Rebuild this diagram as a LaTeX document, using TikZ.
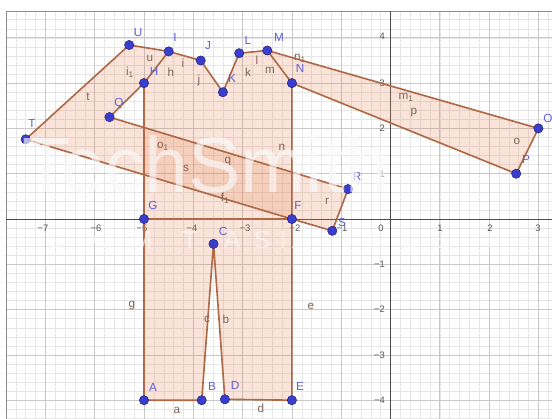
\documentclass[tikz,border=0pt]{standalone}
\usepackage{fontspec}
\setmainfont{Liberation Sans}
\definecolor{segc}{RGB}{175,105,70}
\definecolor{fillc}{RGB}{232,120,70}
\definecolor{ptc}{RGB}{58,62,205}
\definecolor{ptd}{RGB}{30,30,120}
\definecolor{labc}{RGB}{95,95,220}
\definecolor{slabc}{RGB}{130,100,85}
\definecolor{axc}{RGB}{85,85,85}
\definecolor{minorc}{RGB}{230,230,230}
\definecolor{majorc}{RGB}{200,200,200}
\definecolor{wmc}{RGB}{250,250,250}
\begin{document}
\begin{tikzpicture}[x=0.03cm,y=-0.03cm,
  seg/.style={draw=segc,line width=1.4pt,line cap=round,line join=round},
  area/.style={fill=fillc,fill opacity=0.2},
  pt/.style={circle,fill=ptc,draw=ptd,line width=0.4pt,inner sep=0pt,minimum size=0.28cm},
  plab/.style={text=labc,font=\fontsize{10}{12}\selectfont,inner sep=0pt},
  slab/.style={text=slabc,font=\fontsize{10}{12}\selectfont,inner sep=0pt},
  axlab/.style={text=axc,font=\fontsize{8}{10}\selectfont,inner sep=0pt},
  minorg/.style={draw=minorc,line width=0.35pt},
  majorg/.style={draw=majorc,line width=0.6pt},
  axisline/.style={draw=black!70,line width=0.8pt},
  wm/.style={text=wmc,text opacity=0.65,inner sep=0pt}
]
\useasboundingbox (0,0) rectangle (552,419);
\fill[white] (0,0) rectangle (552,419);
% grid
\begin{scope}
\clip (6,11) rectangle (552,419);
\foreach \i in {-39,...,16} \draw[minorg] ({390.5+9.86*\i},11) -- ({390.5+9.86*\i},419);
\foreach \j in {-23,...,23} \draw[minorg] (6,{219+9.06*\j}) -- (552,{219+9.06*\j});
\foreach \i in {-7,...,3} \draw[majorg] ({390.5+49.3*\i},11) -- ({390.5+49.3*\i},419);
\foreach \j in {-4,...,4} \draw[majorg] (6,{219-45.3*\j}) -- (552,{219-45.3*\j});
\end{scope}
\draw[black!45,line width=0.8pt] (6,419) -- (6,11) -- (552,11);
\draw[axisline] (6,219) -- (552,219);
\draw[axisline] (390.5,11) -- (390.5,419);
% axis numbers
\foreach \v/\px in {-7/43,-6/96,-5/142,-4/192,-3/245,-2/295,-1/342,1/440,2/490,3/538}
  \node[axlab] at (\px,228) {\ifnum\v<0 −\number-\v\else\v\fi};
\node[axlab] at (381,228) {0};
\foreach \v/\py in {4/36,3/83,2/128,1/174}
  \node[axlab,anchor=east] at (385,\py) {\v};
\foreach \v/\py in {1/264,2/309,3/355,4/400}
  \node[axlab,anchor=east] at (385,\py) {−\v};
% points
\coordinate (pA) at (144,400.2);
\coordinate (pB) at (201.7,400.2);
\coordinate (pC) at (213.5,243.9);
\coordinate (pD) at (224.9,399.3);
\coordinate (pE) at (291.9,400.2);
\coordinate (pF) at (291.9,219);
\coordinate (pG) at (144,219);
\coordinate (pH) at (144,83.1);
\coordinate (pI) at (168.7,51.4);
\coordinate (pJ) at (200.7,60.5);
\coordinate (pK) at (222.9,92.2);
\coordinate (pL) at (239.2,53.2);
\coordinate (pM) at (267.3,50.5);
\coordinate (pN) at (291.9,83.1);
\coordinate (pO) at (538.4,128.4);
\coordinate (pP) at (516.2,173.7);
\coordinate (pQ) at (109.5,117.1);
\coordinate (pR) at (348.1,189.1);
\coordinate (pS) at (332.3,230.8);
\coordinate (pT) at (25.7,139.3);
\coordinate (pU) at (129.2,45.0);
% fills
\path[area] (pT) -- (pU) -- (pI) -- (pH) -- (pQ) -- (pR) -- (pS) -- (pF) -- cycle;
\path[area] (pG) -- (pF) -- (pN) -- (pM) -- (pL) -- (pK) -- (pJ) -- (pI) -- (pH) -- cycle;
\path[area] (pN) -- (pM) -- (pO) -- (pP) -- cycle;
\path[area] (pA) -- (pB) -- (pC) -- (pD) -- (pE) -- (pF) -- (pG) -- cycle;
% segments
\draw[seg] (pT) -- (pU) -- (pI) -- (pJ) -- (pK) -- (pL) -- (pM) -- (pN);
\draw[seg] (pM) -- (pO) -- (pP) -- (pN);
\draw[seg] (pN) -- (pF) -- (pE) -- (pD) -- (pC) -- (pB) -- (pA) -- (pG) -- (pH);
\draw[seg] (pI) -- (pH) -- (pQ) -- (pR) -- (pS) -- (pF) -- (pT);
\draw[seg] (pG) -- (pF);
% segment labels
\node[slab] (lt) at (88,97) {t};
\node[slab] (lu) at (150,58) {u};
\node[slab] (lh) at (171,72) {h};
\node[slab] (li) at (183,63) {i};
\node[slab] (li1) at (130,72) {i\textsubscript{1}};
\node[slab] (lj) at (199,80) {j};
\node[slab] (lk) at (248,72) {k};
\node[slab] (ll) at (257,60) {l};
\node[slab] (lm) at (270,70) {m};
\node[slab] (ln1) at (300,58) {n\textsubscript{1}};
\node[slab] (lm1) at (406,97) {m\textsubscript{1}};
\node[slab] (lp) at (414,113) {p};
\node[slab] (lo) at (517,141) {o};
\node[slab] (lo1) at (163,146) {o\textsubscript{1}};
\node[slab] (ls) at (186,168) {s};
\node[slab] (lq) at (228,162) {q};
\node[slab] (ln) at (282,147) {n};
\node[slab] (lf1) at (225,198) {f\textsubscript{1}};
\node[slab] (lr) at (327,201) {r};
\node[slab] (lg) at (132,306) {g};
\node[slab] (le) at (311,306) {e};
\node[slab] (lc) at (207,319) {c};
\node[slab] (lb) at (226,319) {b};
\node[slab] (la) at (177,410) {a};
\node[slab] (ld) at (261,408) {d};
% point nodes
\foreach \n in {A,B,C,D,E,F,G,H,I,J,K,L,M,N,O,P,Q,R,S,T,U}
  \node[pt] (\n) at (p\n) {};
% point labels
\node[plab] at (138,33) {U};
\node[plab] at (175,37) {I};
\node[plab] at (208,46) {J};
\node[plab] at (232,78) {K};
\node[plab] at (248,40) {L};
\node[plab] at (279,37) {M};
\node[plab] at (300,68) {N};
\node[plab] at (154,71) {H};
\node[plab] at (119,104) {Q};
\node[plab] at (32,123) {T};
\node[plab] at (153,205) {G};
\node[plab] at (298,205) {F};
\node[plab] at (357,176) {R};
\node[plab] at (342,222) {S};
\node[plab] at (548,118) {O};
\node[plab] at (526,159) {P};
\node[plab] at (223,231) {C};
\node[plab] at (153,387) {A};
\node[plab] at (212,386) {B};
\node[plab] at (235,385) {D};
\node[plab] at (300,386) {E};
% watermark
\node[wm,anchor=base west,font=\fontsize{67}{70}\selectfont] at (22,192) {TechSmith};
\foreach \ch/\px in {I/12,C/55,A/98,M/142,T/190,A/232,S/262,I/283,A/300,F/350,R/378,E/410,E/442,T/490,R/528,I/551}
  \node[wm,text opacity=0.6,anchor=base,font=\fontsize{21}{24}\selectfont] at (\px,248) {\ch};
\end{tikzpicture}
\end{document}
